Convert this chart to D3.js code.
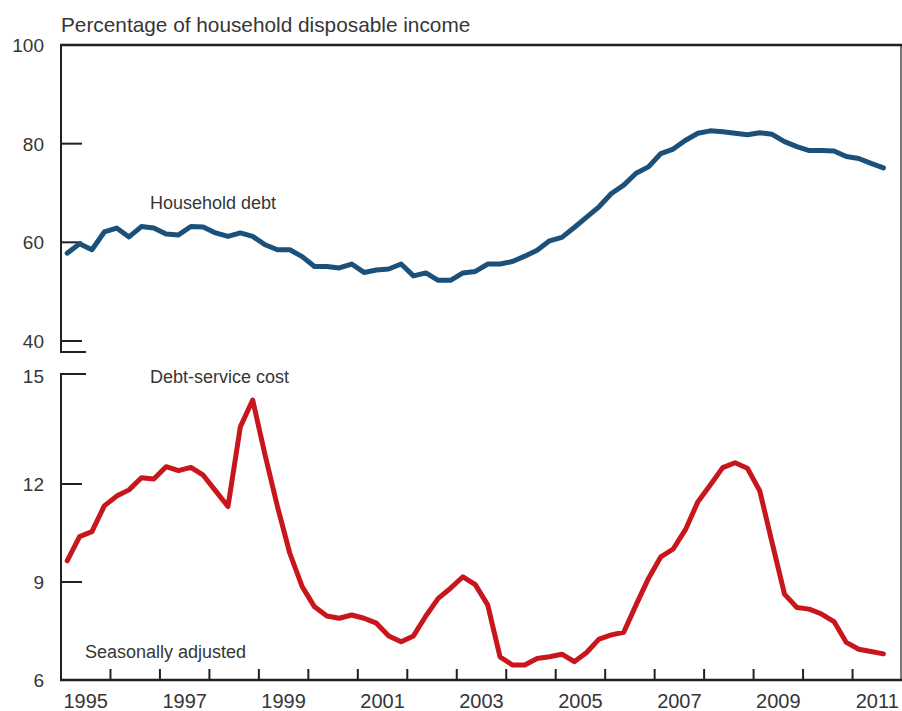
<!DOCTYPE html>
<html>
<head>
<meta charset="utf-8">
<script src="https://cdn.jsdelivr.net/npm/d3@7"></script>
<style>
  body { margin: 0; background: #fff; }
  text { font-family: "Liberation Sans", Arial, sans-serif; fill: #363636; }
</style>
</head>
<body>
<svg id="chart" width="902" height="711"></svg>
<script>

// quarterly values, 1995 Q1 .. 2011 Q3
var startYear = 1995
var householdDebt = [57.8, 59.7, 58.5, 62.1, 62.9, 61.1, 63.2, 62.9, 61.7, 61.5, 63.2, 63.1,
	61.9, 61.2, 61.9, 61.2, 59.5, 58.5, 58.5, 57.1, 55.1, 55.1, 54.8, 55.6,
	53.9, 54.4, 54.6, 55.6, 53.2, 53.8, 52.3, 52.3, 53.8, 54.1, 55.6, 55.6,
	56.1, 57.2, 58.4, 60.3, 61.0, 63.0, 65.1, 67.2, 69.9, 71.6, 74.0, 75.3,
	78.0, 78.9, 80.7, 82.1, 82.6, 82.4, 82.1, 81.8, 82.2, 81.9, 80.4, 79.4,
	78.6, 78.6, 78.5, 77.4, 77.0, 76.0, 75.1]
var debtService = [9.65, 10.39, 10.54, 11.33, 11.63, 11.82, 12.19, 12.15, 12.53, 12.41, 12.51, 12.27,
	11.79, 11.31, 13.75, 14.57, 12.89, 11.31, 9.88, 8.86, 8.24, 7.96, 7.89, 7.99,
	7.89, 7.74, 7.35, 7.17, 7.35, 7.96, 8.50, 8.81, 9.16, 8.92, 8.30, 6.71,
	6.46, 6.46, 6.66, 6.71, 6.79, 6.56, 6.84, 7.25, 7.38, 7.46, 8.30, 9.11,
	9.77, 10.01, 10.61, 11.46, 11.97, 12.50, 12.65, 12.48, 11.79, 10.20, 8.63, 8.22,
	8.17, 8.02, 7.79, 7.15, 6.94, 6.87, 6.80]

var yearLabels = [1995, 1997, 1999, 2001, 2003, 2005, 2007, 2009, 2011]
var yearTicks = d3.range(1996, 2012)
var debtTicks = [40, 60, 80, 100]
var serviceTicks = [9, 12]

var svg = d3.select("#chart")
var axisColor = "#231f20"

var mLeft = 61, mRight = 901, mTop = 45, mBottom = 680
var upperEnd = 352, lowerStart = 374

var x = d3.scaleLinear().domain([1995, 2012]).range([mLeft, 902])
var yTop = d3.scaleLinear().domain([40, 100]).range([341, mTop])
var yBot = d3.scaleLinear().domain([6, 12]).range([mBottom, 484])

function qx(i) { return x(startYear + i * 0.25 + 0.125) }

function rule(x1, y1, x2, y2, w) {
	svg.append("line").attr("x1", x1).attr("y1", y1).attr("x2", x2).attr("y2", y2)
		.attr("stroke", axisColor).attr("stroke-width", w)
}

// frame
rule(mLeft - 1, mTop, 902, mTop, 2.5)
rule(mRight, mTop, mRight, mBottom, 1.2)

// left axis with a break between the two panels
rule(mLeft, mTop - 1, mLeft, upperEnd + 1, 2)
rule(mLeft, lowerStart - 1, mLeft, mBottom + 1, 2)
rule(mLeft, upperEnd, 86, upperEnd, 2)
rule(mLeft, lowerStart, 86, lowerStart, 2)

// bottom axis
rule(mLeft - 1, mBottom, 902, mBottom, 2.5)

svg.selectAll(".xtick").data(yearTicks).enter().append("line")
	.attr("x1", function (d) { return x(d) }).attr("x2", function (d) { return x(d) })
	.attr("y1", mBottom).attr("y2", mBottom - 11)
	.attr("stroke", axisColor).attr("stroke-width", 2)

svg.selectAll(".xlab").data(yearLabels).enter().append("text")
	.attr("x", function (d) { return x(d + 0.5) })
	.attr("y", 708)
	.attr("text-anchor", "middle")
	.style("font-size", "20px")
	.text(function (d) { return d })

// y ticks, upper panel
svg.selectAll(".ytick1").data(debtTicks.filter(function (d) { return d < 100 })).enter().append("line")
	.attr("x1", mLeft).attr("x2", 82)
	.attr("y1", function (d) { return yTop(d) }).attr("y2", function (d) { return yTop(d) })
	.attr("stroke", axisColor).attr("stroke-width", 2)
svg.selectAll(".ylab1").data(debtTicks).enter().append("text")
	.attr("x", 44).attr("y", function (d) { return yTop(d) + 7 })
	.attr("text-anchor", "end")
	.style("font-size", "19px")
	.text(function (d) { return d })

// y ticks, lower panel
svg.selectAll(".ytick2").data(serviceTicks).enter().append("line")
	.attr("x1", mLeft).attr("x2", 82)
	.attr("y1", function (d) { return yBot(d) }).attr("y2", function (d) { return yBot(d) })
	.attr("stroke", axisColor).attr("stroke-width", 2)
svg.selectAll(".ylab2").data([6].concat(serviceTicks)).enter().append("text")
	.attr("x", 44).attr("y", function (d) { return yBot(d) + 7 })
	.attr("text-anchor", "end")
	.style("font-size", "19px")
	.text(function (d) { return d })
svg.append("text").attr("x", 44).attr("y", lowerStart + 9)
	.attr("text-anchor", "end").style("font-size", "19px").text("15")

// lines
var lineTop = d3.line().x(function (d, i) { return qx(i) }).y(function (d) { return yTop(d) })
var lineBot = d3.line().x(function (d, i) { return qx(i) }).y(function (d) { return yBot(d) })

svg.append("path").datum(householdDebt)
	.attr("d", lineTop)
	.attr("fill", "none").attr("stroke", "#1a5079").attr("stroke-width", 5)
	.attr("stroke-linejoin", "round").attr("stroke-linecap", "round")

svg.append("path").datum(debtService)
	.attr("d", lineBot)
	.attr("fill", "none").attr("stroke", "#c8161d").attr("stroke-width", 5)
	.attr("stroke-linejoin", "round").attr("stroke-linecap", "round")

// labels
svg.append("text").attr("x", 61).attr("y", 32).style("font-size", "20.8px")
	.text("Percentage of household disposable income")
svg.append("text").attr("x", 150).attr("y", 209).style("font-size", "18px").text("Household debt")
svg.append("text").attr("x", 150).attr("y", 383).style("font-size", "18px").text("Debt-service cost")
svg.append("text").attr("x", 85).attr("y", 658).style("font-size", "18px").text("Seasonally adjusted")

</script>
</body>
</html>
